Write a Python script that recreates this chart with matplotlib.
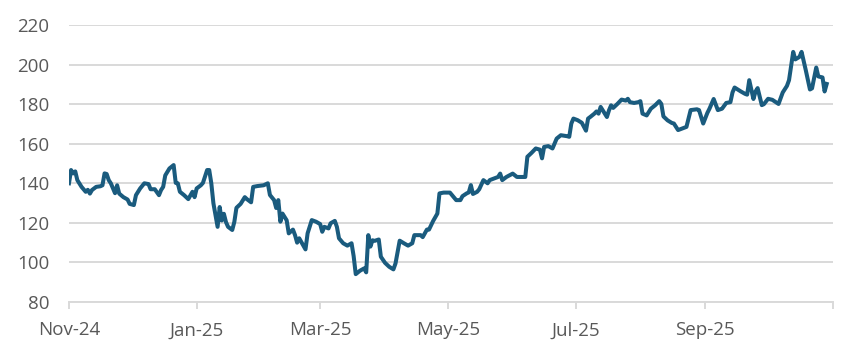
import matplotlib
matplotlib.use("Agg")
import matplotlib.pyplot as plt
import pandas as pd

# price series, grouped by month
nov = ["2024-11-%02d" % d for d in [1, 2, 3, 4, 5, 7, 9, 10, 11, 12, 14, 16, 17, 18, 19, 20, 21, 23, 24, 25, 27, 29, 30]]
nov_v = [140, 146.7, 145, 146, 141.6, 138.2, 135.7, 136.7, 134.8, 136.6, 138.2, 138.5, 139, 145, 144.7, 141.6, 140, 135, 139, 134.8, 133, 131.8, 129.6]
dec = ["2024-12-%02d" % d for d in [2, 3, 5, 7, 9, 10, 12, 14, 15, 16, 17, 19, 21, 22, 23, 24, 26, 28, 30, 31]]
dec_v = [129, 134, 137.4, 140, 139.6, 137, 137, 134, 136.6, 138.2, 144, 147.5, 149.2, 140.2, 140, 135.7, 134, 132, 135.7, 133]
jan = ["2025-01-%02d" % d for d in [1, 3, 4, 6, 7, 8, 9, 11, 12, 13, 14, 15, 16, 18, 19, 20, 22, 24, 25, 27, 28, 30]]
jan_v = [137.4, 139, 140.2, 146.7, 146.7, 140, 129.9, 118, 128, 121.2, 124.6, 120.4, 118, 116.4, 120.5, 127.6, 129.6, 133, 132, 130.4, 138.2, 138.6]
feb = ["2025-02-%02d" % d for d in [2, 4, 5, 7, 8, 9, 10, 11, 13, 14, 16, 17, 18, 19, 22, 23, 25, 27]]
feb_v = [139, 140, 134.1, 131.5, 127.5, 131.5, 120.6, 124.7, 121.3, 114.7, 116.6, 113.8, 110, 112.2, 106.6, 114.7, 121.4, 120.6]
mar = ["2025-03-%02d" % d for d in [1, 2, 3, 5, 6, 8, 9, 10, 12, 14, 16, 17, 18, 20, 22, 23, 24, 25, 26, 27, 29, 30]]
mar_v = [119.4, 115.5, 118, 117.2, 119.8, 121, 118, 112.2, 109.7, 108.5, 109.7, 103.2, 94.1, 95.8, 97, 95, 113.8, 108, 111.2, 110.9, 111.6, 102.9]
apr = ["2025-04-%02d" % d for d in [1, 3, 5, 6, 7, 8, 10, 12, 14, 15, 18, 19, 21, 22, 24, 26, 27, 29]]
apr_v = [99.8, 97.8, 96.5, 99.5, 105.4, 111, 109.7, 108.5, 109.7, 113.8, 113.8, 112.8, 116.6, 116.6, 121, 124.7, 134.9, 135.3]
may = ["2025-05-%02d" % d for d in [2, 4, 5, 7, 8, 10, 11, 12, 13, 15, 16, 18, 20, 21, 23, 25, 26, 27, 29]]
may_v = [135.3, 132.8, 131.5, 131.5, 133.5, 134.9, 135.4, 139.1, 134.6, 135.7, 137, 141.6, 140, 141.6, 142.4, 143.2, 144.9, 141.6, 143.2]
jun = ["2025-06-%02d" % d for d in [1, 3, 7, 8, 10, 12, 14, 15, 16, 18, 20, 22, 24, 27, 28, 29, 30]]
jun_v = [144.9, 143.2, 143.2, 153.4, 155.4, 157.6, 157, 152.6, 158.4, 158.8, 157.6, 162.6, 164.3, 163.8, 163.5, 170.2, 172.7]
jul = ["2025-07-%02d" % d for d in [2, 4, 6, 7, 8, 10, 11, 12, 13, 14, 16, 17, 18, 19, 21, 23, 25, 26, 27, 29, 31]]
jul_v = [171.9, 170.6, 166.6, 172.7, 173.5, 175.2, 176.3, 175.2, 178.6, 176.9, 173.5, 176.9, 179.4, 178.1, 180.1, 182.3, 181.8, 182.7, 181, 180.6, 181]
aug = ["2025-08-%02d" % d for d in [1, 2, 4, 6, 8, 10, 11, 12, 14, 16, 17, 19, 21, 23, 25, 28, 29, 31]]
aug_v = [181.5, 175.2, 174.3, 177.7, 179.4, 181.5, 180.1, 173.8, 171.8, 170.5, 170.2, 166.9, 167.7, 168.5, 177, 177.4, 177, 170.2]
sep = ["2025-09-%02d" % d for d in [2, 3, 5, 7, 9, 11, 13, 14, 15, 18, 20, 21, 22, 24, 25, 26, 28, 29]]
sep_v = [175.6, 177.7, 182.6, 177, 177.7, 180.6, 181, 185.9, 188.4, 186.4, 185.2, 184.8, 192.1, 182.6, 186.4, 188.1, 179.5, 180]
oct_ = ["2025-10-%02d" % d for d in [1, 3, 4, 6, 8, 10, 11, 13, 14, 16, 17, 19, 21, 22, 24, 25, 27, 28, 29]]
oct_v = [182.7, 182.2, 181.5, 180.1, 185.9, 189.2, 192.1, 206.4, 202.6, 203.9, 206.4, 197.2, 187.4, 188, 198.5, 194, 193.5, 186.4, 190.2]

dates = pd.to_datetime(nov + dec + jan + feb + mar + apr + may + jun + jul + aug + sep + oct_)
values = nov_v + dec_v + jan_v + feb_v + mar_v + apr_v + may_v + jun_v + jul_v + aug_v + sep_v + oct_v

tick_dates = pd.to_datetime(["2024-11-01", "2025-01-01", "2025-03-01", "2025-05-01",
                             "2025-07-01", "2025-09-01", "2025-11-01"])
tick_labels = ["Nov-24", "Jan-25", "Mar-25", "May-25", "Jul-25", "Sep-25", ""]

plt.rcParams['font.family'] = ['Open Sans', 'DejaVu Sans']
grey = '#d9d9d9'
text_col = '#595959'

fig = plt.figure(figsize=(8.59, 3.57), dpi=100)
ax = fig.add_axes([0.0803, 0.154, 0.8894, 0.776])

ax.plot(dates, values, color='#1a5b7e', lw=2.9, solid_joinstyle='round')

ax.set_ylim(80, 220)
ax.set_yticks(range(80, 221, 20))
ax.set_xlim(tick_dates[0], tick_dates[-1])
ax.set_xticks(tick_dates)
ax.set_xticklabels(tick_labels)

ax.grid(axis='y', color=grey, lw=1.4)
ax.set_axisbelow(True)
for s in ['top', 'right', 'left']:
    ax.spines[s].set_visible(False)
ax.spines['bottom'].set_color(grey)
ax.spines['bottom'].set_linewidth(1.4)

ax.tick_params(axis='y', length=0, pad=14, labelsize=13.5, labelcolor=text_col)
ax.tick_params(axis='x', length=5, width=1.4, color=grey, pad=9, labelsize=13.5, labelcolor=text_col)

fig.savefig('out.png', dpi=100)
